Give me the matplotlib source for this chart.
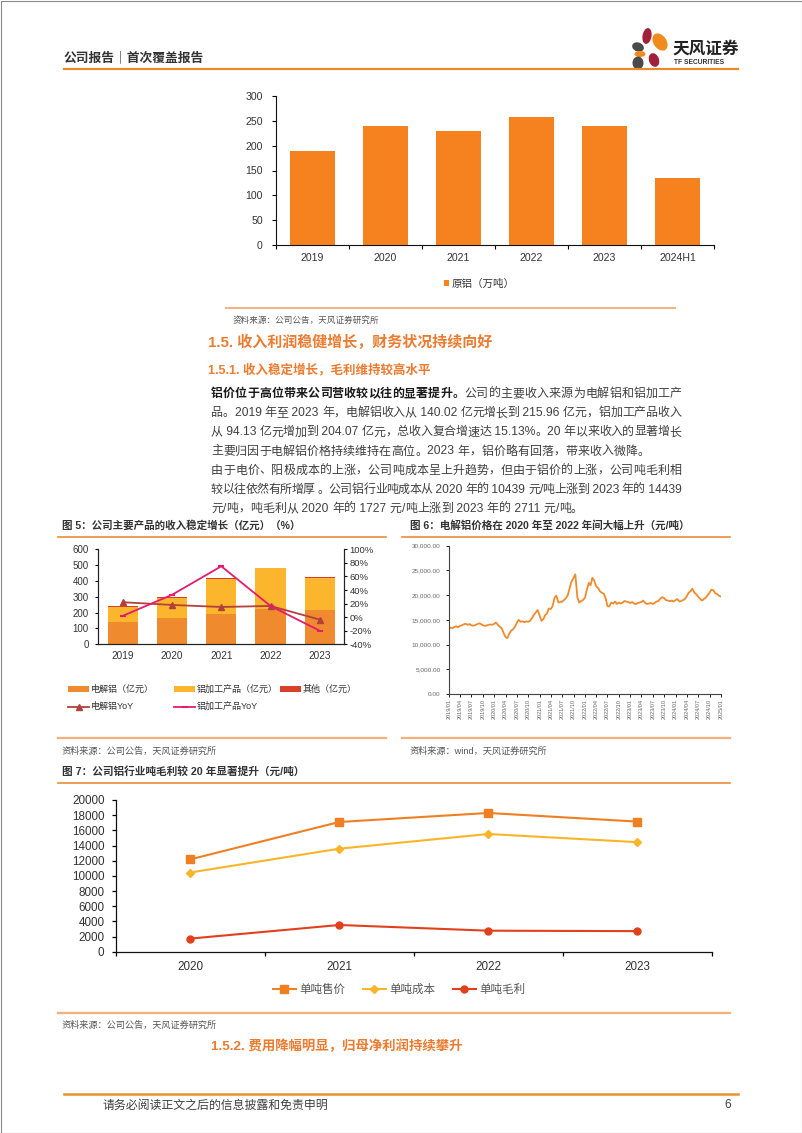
import re

import matplotlib
matplotlib.use("Agg")
import matplotlib.pyplot as plt
import numpy as np
import pandas as pd
from matplotlib.lines import Line2D
from matplotlib.patches import Ellipse, Rectangle
from matplotlib.transforms import Affine2D

plt.rcParams["font.family"] = ["Liberation Sans", "Noto Sans CJK SC"]
plt.rcParams["axes.unicode_minus"] = False

# ---- data ----
prod_years = ["2019", "2020", "2021", "2022", "2023", "2024H1"]
prod_alu = [189, 240, 229, 258, 239, 134]

rev_years = ["2019", "2020", "2021", "2022", "2023"]
rev_electro = [140.02, 164, 193, 224, 215.96]
rev_process = [94.13, 127, 221, 257, 204.07]
rev_other = [10, 5, 3, 4, 5]
yoy_electro = [22, 18, 15, 16.5, -3.6]
yoy_process = [2, 33, 75, 16.5, -20]

# semi-monthly aluminium price, 2019/01 .. 2025/01 (yuan/t)
price_values = [
    13300, 13400, 13350, 13600, 13700, 13500, 13800, 13900, 14100, 14200, 14000, 14150,
    13900, 13800, 13950, 14100, 14300, 14150, 13900, 13800, 13850, 14000, 14050, 14000,
    14200, 14450, 13900, 13600, 13300, 12400, 11500, 11300, 12200, 12800, 13100, 13600,
    14400, 15000, 14600, 14700, 14500, 14700, 14600, 14800, 15400, 16000, 16500, 17000,
    15800, 14800, 15200, 16000, 16300, 17300, 17200, 17800, 19500, 19900, 18500, 18600,
    18700, 19000, 19400, 20000, 21500, 22800, 23500, 24200, 19500, 18500, 18800, 19000,
    19500, 21000, 22500, 22000, 23500, 23000, 21800, 21500, 20800, 20500, 20300, 19500,
    17800, 17700, 18500, 18300, 18700, 18200, 18500, 18300, 18500, 18800, 18700, 18600,
    18400, 18600, 18300, 18200, 18400, 18500, 18600, 18900, 18400, 18200, 18300, 18400,
    18200, 18400, 18700, 18800, 19300, 19600, 19400, 19000, 18900, 18800, 18900, 18700,
    19000, 19200, 18700, 18800, 19000, 19200, 19800, 20500, 20800, 21300, 20500, 20200,
    19700, 19300, 18900, 19200, 19500, 20000, 20500, 21100, 21000, 20400, 20200, 19900,
    19700,
]

margin_years = ["2020", "2021", "2022", "2023"]
unit_price = [12166, 17100, 18290, 17150]
unit_cost = [10439, 13580, 15520, 14439]
unit_margin = [1727, 3520, 2770, 2711]

# ---- colours ----
ORANGE = "#F5821F"
TXT = "#333333"
HEAD = "#EC7B2F"
RULE = "#EE8A3A"
RULE_LIGHT = "#F4B07A"

W, H = 802, 1133
fig = plt.figure(figsize=(W / 100, H / 100), dpi=100)
PX = Affine2D().scale(1 / W, -1 / H).translate(0, 1) + fig.transFigure


def add_ax(l, t, r, b):
    return fig.add_axes([l / W, 1 - b / H, (r - l) / W, (b - t) / H])


def hline(x0, x1, y, color, lw):
    fig.add_artist(Line2D([x0, x1], [y, y], transform=PX, color=color, lw=lw))


def text(x, y, s, size, color=TXT, bold=False, **kw):
    kw.setdefault("va", "center")
    return fig.text(x, y, s, transform=PX, fontsize=size, color=color,
                    fontweight="bold" if bold else "normal", **kw)


# page border
fig.add_artist(Rectangle((0.5, 0.5), W - 1, H - 1, transform=PX, fill=False,
                         edgecolor="#8a8a8a", lw=0.8))

# ---- header ----
text(64, 58, "公司报告｜首次覆盖报告", 9.2, bold=True)
hline(64, 738, 68.5, "#E8892A", 1.6)
for (cx, cy, w, h, a, c) in [
    (647, 36, 9, 16, 10, "#A3203A"),
    (660, 42, 13, 19, -35, "#F08C1E"),
    (638, 47, 12, 9, 20, "#4A4A4A"),
    (640, 54, 11, 6, 0, "#F08C1E"),
    (638, 63, 11, 13, 0, "#4A4A4A"),
    (654, 60, 10, 14, -20, "#A3203A"),
]:
    fig.add_artist(Ellipse((cx, cy), w, h, angle=a, transform=PX, color=c, lw=0))
text(672, 49, "天风证券", 12, color="#222222", bold=True)
text(674, 63, "TF SECURITIES", 4.8, color="#333333", bold=True)

# ---- top bar chart ----
ax1 = add_ax(276, 96, 714, 245)
x1 = np.arange(len(prod_years))
bars = ax1.bar(x1, prod_alu, width=0.62, color=ORANGE)
ax1.set_xlim(-0.5, len(prod_years) - 0.5)
ax1.set_ylim(0, 300)
ax1.set_yticks(range(0, 301, 50))
ax1.set_xticks(x1)
ax1.set_xticklabels(prod_years)
ax1.set_xticks(np.arange(-0.5, len(prod_years)), minor=True)
for s in ["top", "right"]:
    ax1.spines[s].set_visible(False)
for s in ["left", "bottom"]:
    ax1.spines[s].set_color("#111111")
    ax1.spines[s].set_linewidth(0.8)
ax1.tick_params(axis="y", length=3, width=0.8, pad=6.5, labelsize=7.6, labelcolor=TXT)
ax1.tick_params(axis="x", which="major", length=0, pad=6, labelsize=7.6, labelcolor=TXT)
ax1.tick_params(axis="x", which="minor", length=3, width=0.8)
ax1.legend([bars], ["原铝（万吨）"], loc="center left", bbox_to_anchor=(444, 284),
           bbox_transform=PX, frameon=False, fontsize=7.6, handlelength=0.5,
           handleheight=0.5, handletextpad=0.25, borderpad=0, borderaxespad=0,
           labelcolor=TXT)
hline(226, 675, 307.5, RULE_LIGHT, 1.4)
text(233, 320, "资料来源：公司公告，天风证券研究所", 6.2, color="#555555")

# ---- section headings ----
text(208, 342, "1.5. 收入利润稳健增长，财务状况持续向好", 10.8, color=HEAD, bold=True)
text(208, 370, "1.5.1. 收入稳定增长，毛利维持较高水平", 9.0, color=HEAD, bold=True)

# ---- body text (justified lines) ----
BODY_PT = 8.64
renderer = fig.canvas.get_renderer()


def adv(s, bold):
    t = fig.text(0, 0, s, fontsize=BODY_PT, fontweight="bold" if bold else "normal")
    w = t.get_window_extent(renderer).width
    t.remove()
    return w


def body_line(parts, y, justify=True, x0=211, x1=681.5):
    em = BODY_PT * 100 / 72
    toks = []
    for s, bold in parts:
        for t in re.findall(r"[ -~]+|.", s):
            if re.fullmatch(r"[ -~]+", t):
                w = adv("|" + t + "|", bold) - adv("||", bold)
            else:
                w = em
            toks.append((t, bold, w))
    total = sum(w for _, _, w in toks)
    gap = (x1 - x0 - total) / (len(toks) - 1) if justify else 0
    x = x0
    for t, bold, w in toks:
        text(x, y, t, BODY_PT, color="#1a1a1a" if bold else "#404040", bold=bold,
             va="baseline", ha="left")
        x += w + gap


body = [
    ([("铝价位于高位带来公司营收较以往的显著提升。", True),
      ("公司的主要收入来源为电解铝和铝加工产", False)], True),
    ([("品。2019 年至 2023 年，电解铝收入从 140.02 亿元增长到 215.96 亿元，铝加工产品收入", False)], True),
    ([("从 94.13 亿元增加到 204.07 亿元，总收入复合增速达 15.13%。20 年以来收入的显著增长", False)], True),
    ([("主要归因于电解铝价格持续维持在高位。2023 年，铝价略有回落，带来收入微降。", False)], False),
    ([("由于电价、阳极成本的上涨，公司吨成本呈上升趋势，但由于铝价的上涨，公司吨毛利相", False)], True),
    ([("较以往依然有所增厚 。公司铝行业吨成本从 2020 年的 10439 元/吨上涨到 2023 年的 14439", False)], True),
    ([("元/吨，吨毛利从 2020 年的 1727 元/吨上涨到 2023 年的 2711 元/吨。", False)], False),
]
for i, (parts, just) in enumerate(body):
    body_line(parts, 397.2 + 19.1 * i, just)

# ---- figure 5 ----
text(62, 525.5, "图 5：公司主要产品的收入稳定增长（亿元）（%）", 7.6, bold=True)
hline(58, 386, 537, RULE, 1.2)
ax5 = add_ax(98.3, 549.3, 344.3, 644.3)
x5 = np.arange(len(rev_years))
c_el, c_pr, c_ot = "#F08A2E", "#FBB62E", "#D8402A"
ax5.bar(x5, rev_electro, width=0.61, color=c_el)
ax5.bar(x5, rev_process, width=0.61, bottom=rev_electro, color=c_pr)
ax5.bar(x5, rev_other, width=0.61,
        bottom=np.add(rev_electro, rev_process), color=c_ot)
ax5.set_xlim(-0.5, len(rev_years) - 0.5)
ax5.set_ylim(0, 600)
ax5.set_yticks(range(0, 601, 100))
ax5.set_xticks(x5)
ax5.set_xticklabels(rev_years)
ax5b = ax5.twinx()
c_ye, c_yp = "#B3403A", "#E31C6B"
ax5b.plot(x5, yoy_electro, color=c_ye, lw=1.3, marker="^", ms=4.5)
ax5b.plot(x5, yoy_process, color=c_yp, lw=1.3, marker="_", ms=5, mew=1.5)
ax5b.set_ylim(-40, 100)
ax5b.set_yticks(range(-40, 101, 20))
ax5b.set_yticklabels([f"{v}%" for v in range(-40, 101, 20)])
for a in (ax5, ax5b):
    a.spines["top"].set_visible(False)
    for s in ["left", "bottom", "right"]:
        a.spines[s].set_color("#222222")
        a.spines[s].set_linewidth(0.8)
ax5.tick_params(axis="y", length=2.5, width=0.8, pad=4.5, labelsize=7, labelcolor=TXT)
ax5.tick_params(axis="x", length=0, pad=4.5, labelsize=7.2, labelcolor=TXT)
ax5b.tick_params(axis="y", length=2.5, width=0.8, pad=1.2, labelsize=6.8, labelcolor=TXT)


def legend_patch(x, y, color, label):
    fig.add_artist(Rectangle((x, y - 3), 21, 6, transform=PX, color=color, lw=0))
    text(x + 23, y, label, 6.5)


def legend_line(x, y, color, label, **kw):
    fig.add_artist(Line2D([x, x + 21], [y, y], transform=PX, color=color, lw=1.3))
    fig.add_artist(Line2D([x + 10.5], [y], transform=PX, color=color, **kw))
    text(x + 23, y, label, 6.5)


legend_patch(68, 689, c_el, "电解铝（亿元）")
legend_patch(174, 689, c_pr, "铝加工产品（亿元）")
legend_patch(280, 689, c_ot, "其他（亿元）")
legend_line(68, 706.5, c_ye, "电解铝YoY", marker="^", ms=4.5)
legend_line(174, 706.5, c_yp, "铝加工产品YoY", marker="_", ms=5, mew=1.5)
hline(58, 386, 738, RULE_LIGHT, 1.6)
text(62, 751, "资料来源：公司公告，天风证券研究所", 6.6, color="#555555")

# ---- figure 6 ----
text(410, 525.5, "图 6：电解铝价格在 2020 年至 2022 年间大幅上升（元/吨）", 7.6, bold=True)
hline(402, 730, 537, RULE, 1.2)
ax6 = add_ax(449, 545.7, 721, 694)
dates = pd.date_range("2019-01-01", periods=len(price_values), freq="SMS")
ax6.plot(dates.to_pydatetime(), price_values, color="#F08A2C", lw=1.3)
qticks = pd.date_range("2019-01-01", "2025-01-01", freq="QS").to_pydatetime()
ax6.set_xlim(qticks[0], qticks[-1])
ax6.set_xticks(qticks)
ax6.set_xticklabels([d.strftime("%Y/%m") for d in qticks], rotation=90)
ax6.set_ylim(0, 30000)
ax6.set_yticks(range(0, 30001, 5000))
ax6.set_yticklabels([f"{v:,.2f}" for v in range(0, 30001, 5000)])
for s in ["top", "right"]:
    ax6.spines[s].set_visible(False)
for s in ["left", "bottom"]:
    ax6.spines[s].set_color("#444444")
    ax6.spines[s].set_linewidth(0.8)
ax6.tick_params(axis="y", length=2, width=0.6, pad=4, labelsize=4.6, labelcolor="#666666")
ax6.tick_params(axis="x", length=2, width=0.6, pad=1.5, labelsize=4.0, labelcolor="#666666")
hline(402, 730, 738, RULE_LIGHT, 1.6)
text(410, 751, "资料来源：wind，天风证券研究所", 6.6, color="#555555")

# ---- figure 7 ----
text(62, 771.5, "图 7：公司铝行业吨毛利较 20 年显著提升（元/吨）", 7.7, bold=True)
hline(58, 730, 782.5, RULE, 1.2)
ax7 = add_ax(115.5, 800, 712, 951.7)
x7 = np.arange(len(margin_years))
ax7.plot(x7, unit_price, color="#F07F22", lw=1.5, marker="s", ms=5.5, label="单吨售价")
ax7.plot(x7, unit_cost, color="#F9B529", lw=1.5, marker="D", ms=4.5, label="单吨成本")
ax7.plot(x7, unit_margin, color="#E2401C", lw=1.5, marker="o", ms=5, label="单吨毛利")
ax7.set_xlim(-0.5, len(margin_years) - 0.5)
ax7.set_ylim(0, 20000)
ax7.set_yticks(range(0, 20001, 2000))
ax7.set_xticks(x7)
ax7.set_xticklabels(margin_years)
ax7.set_xticks(np.arange(-0.5, len(margin_years)), minor=True)
for s in ["top", "right"]:
    ax7.spines[s].set_visible(False)
for s in ["left", "bottom"]:
    ax7.spines[s].set_color("#111111")
    ax7.spines[s].set_linewidth(0.9)
ax7.tick_params(axis="y", length=3, width=0.9, pad=5, labelsize=8.4, labelcolor=TXT)
ax7.tick_params(axis="x", which="major", length=0, pad=6.5, labelsize=8.4, labelcolor=TXT)
ax7.tick_params(axis="x", which="minor", length=3, width=0.9)
ax7.legend(loc="center", bbox_to_anchor=(399, 990), bbox_transform=PX, ncol=3,
           frameon=False, fontsize=8.3, handlelength=2.0, handletextpad=0.3,
           columnspacing=1.5, borderpad=0, borderaxespad=0, labelcolor="#555555")
hline(58, 730, 1013.3, RULE_LIGHT, 1.6)
text(62, 1025, "资料来源：公司公告，天风证券研究所", 6.6, color="#555555")
text(211, 1046, "1.5.2. 费用降幅明显，归母净利润持续攀升", 9.6, color=HEAD, bold=True)

# ---- footer ----
hline(63.5, 738, 1094, "#E8922A", 1.8)
text(102.5, 1105.5, "请务必阅读正文之后的信息披露和免责申明", 8.6, color="#404040")
text(731, 1105.5, "6", 8.6, color="#404040", ha="right")

fig.savefig("out.png", dpi=100)
